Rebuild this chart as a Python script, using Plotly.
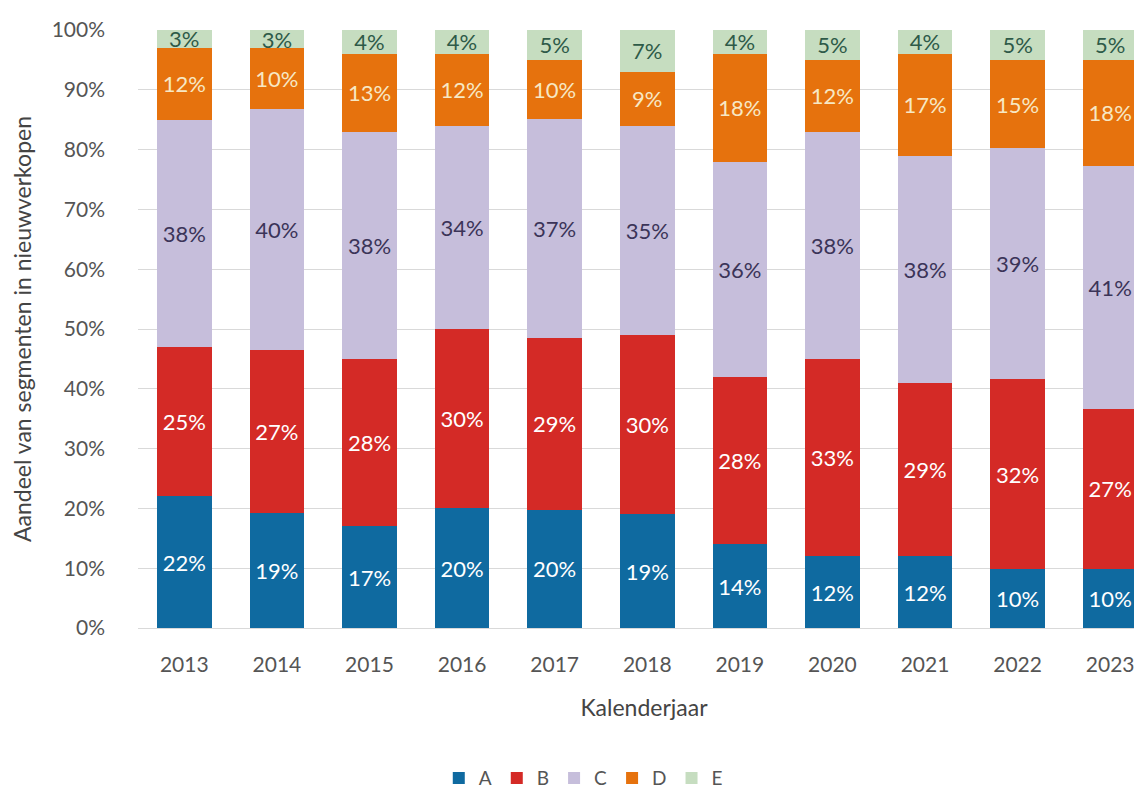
import plotly.graph_objects as go

# data
years = ['2013', '2014', '2015', '2016', '2017', '2018', '2019', '2020', '2021', '2022', '2023']
seg_a = [22, 19, 17, 20, 20, 19, 14, 12, 12, 10, 10]
seg_b = [25, 27, 28, 30, 29, 30, 28, 33, 29, 32, 27]
seg_c = [38, 40, 38, 34, 37, 35, 36, 38, 38, 39, 41]
seg_d = [12, 10, 13, 12, 10, 9, 18, 12, 17, 15, 18]
seg_e = [3, 3, 4, 4, 5, 7, 4, 5, 4, 5, 5]

series = [
    ('A', seg_a, '#0f6aa0', '#ffffff'),
    ('B', seg_b, '#d42a26', '#ffffff'),
    ('C', seg_c, '#c6bedb', '#3b3458'),
    ('D', seg_d, '#e6720d', '#f7e8c4'),
    ('E', seg_e, '#c6ddc0', '#2e5a48'),
]

font_name = 'Lato'

fig = go.Figure()
for name, vals, color, txt_color in series:
    fig.add_trace(go.Bar(
        x=years,
        y=vals,
        name=name,
        marker=dict(color=color, line=dict(width=0)),
        text=[f'{v}%' for v in vals],
        textposition='inside',
        insidetextanchor='middle',
        textangle=0,
        textfont=dict(color=txt_color, size=22, family=font_name),
        constraintext='none',
    ))

fig.update_layout(
    barmode='stack',
    barnorm='fraction',
    bargap=0.41,
    width=1142,
    height=796,
    margin=dict(l=130, r=0, t=22, b=176),
    plot_bgcolor='white',
    paper_bgcolor='white',
    font=dict(family=font_name, color='#555555', size=21),
    legend=dict(
        orientation='h',
        x=0.44, xanchor='center',
        y=-0.251, yanchor='middle',
        font=dict(size=19, color='#555555'),
        traceorder='normal',
        itemwidth=30,
    ),
    showlegend=True,
)

fig.update_xaxes(
    type='category',
    range=[-0.5, 10.43],
    automargin=False,
    title=dict(text='Kalenderjaar', font=dict(size=23, color='#444444'), standoff=24),
    tickfont=dict(size=21, color='#555555'),
    ticks='',
    showline=True,
    linecolor='#d9d9d9',
    ticklabelstandoff=18,
)

fig.update_yaxes(
    range=[0, 1],
    tickformat='.0%',
    dtick=0.1,
    automargin=False,
    showgrid=True,
    gridcolor='#d9d9d9',
    zeroline=False,
    ticklabelstandoff=32,
    title=dict(text='Aandeel van segmenten in nieuwverkopen', font=dict(size=23, color='#444444'), standoff=14),
    tickfont=dict(size=21, color='#555555'),
)

fig.write_html('out.html')
